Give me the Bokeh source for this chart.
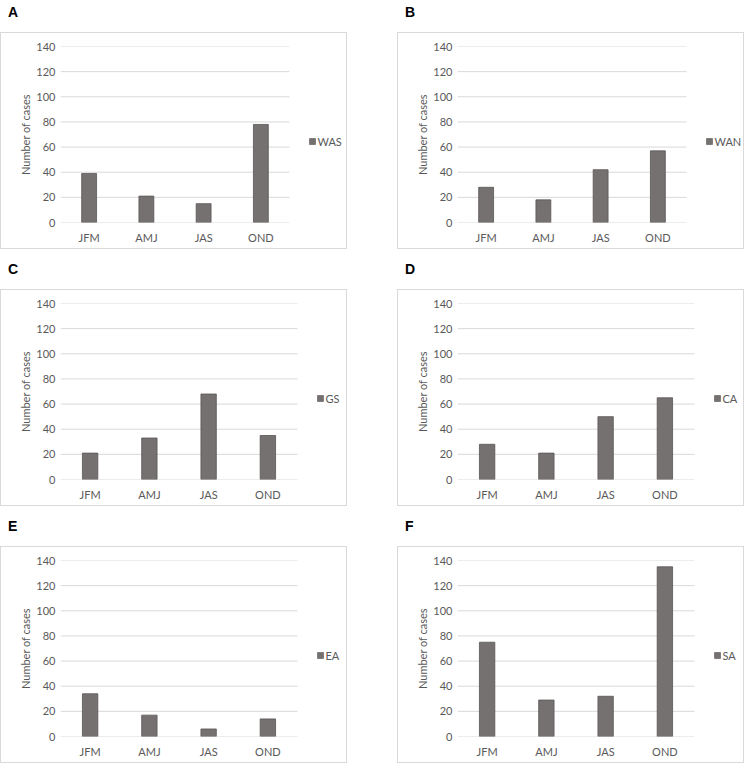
from bokeh.plotting import figure
from bokeh.models import ColumnDataSource, Range1d, FixedTicker, Div, Spacer
from bokeh.core.properties import value
from bokeh.layouts import column, row
from bokeh.embed import file_html
from bokeh.resources import INLINE

# ---------------- data ----------------
categories = ["JFM", "AMJ", "JAS", "OND"]
panel_letters = ["A", "B", "C", "D", "E", "F"]
regions = ["WAS", "WAN", "GS", "CA", "EA", "SA"]
was = [39, 21, 15, 78]
wan = [28, 18, 42, 57]
gs = [21, 33, 68, 35]
ca = [28, 21, 50, 65]
ea = [34, 17, 6, 14]
sa = [75, 29, 32, 135]
y_ticks = [0, 20, 40, 60, 80, 100, 120, 140]
y_label = "Number of cases"
series = [was, wan, gs, ca, ea, sa]

# ---------------- style / layout ----------------
FONT = "Lato"
TXT = "#595959"
GRID = "#d9d9d9"
BAR = "#767171"
BAR_EDGE = "#5a5555"
W, H = 347, 217
LEFT, TOP, BOTTOM, RIGHT_MIN = 59, 13, 28, 3
PLOT_PX = {"A": 229, "B": 229, "C": 237, "D": 237, "E": 237, "F": 237}
LEG_GAP_PX = 23          # legend square centre, px right of plot area
LEG_Y_FRAC = 0.46        # legend height as fraction of axis range


def make_panel(letter, region, values, pad_top):
    n = len(categories)
    frame_px = W - LEFT - RIGHT_MIN
    cat_px = PLOT_PX[letter] / n
    x_end = frame_px / cat_px
    xs = [i + 0.5 for i in range(n)]
    src = ColumnDataSource(dict(x=xs, val=values))

    p = figure(x_range=Range1d(0, x_end),
               y_range=Range1d(y_ticks[0], y_ticks[-1]),
               width=W, height=H, output_backend="svg", toolbar_location=None,
               min_border_left=LEFT, min_border_right=RIGHT_MIN,
               min_border_top=TOP, min_border_bottom=BOTTOM,
               background_fill_color="white", border_fill_color="white",
               outline_line_color=None,
               styles={"border": f"1px solid {GRID}"})

    # horizontal gridlines spanning only the category area
    p.segment(x0=[0] * len(y_ticks), x1=[n] * len(y_ticks),
              y0=y_ticks, y1=y_ticks, line_color=GRID, line_width=1)

    p.vbar(x="x", top="val", width=0.26, source=src,
           fill_color=BAR, line_color=BAR_EDGE, line_width=0.8)

    # legend (square + label) placed right of the category area
    lx = n + LEG_GAP_PX / cat_px
    ly = y_ticks[-1] * LEG_Y_FRAC
    p.rect(x=[lx], y=[ly], width=6, height=6, width_units="screen",
           height_units="screen", fill_color=BAR, line_color=BAR_EDGE,
           line_width=0.6)
    p.text(x=[lx], y=[ly], text=[region], x_offset=5,
           text_font=value(FONT), text_font_size="11px", text_color=TXT,
           text_baseline="middle", text_align="left")

    p.xgrid.grid_line_color = None
    p.ygrid.grid_line_color = None

    ya = p.yaxis[0]
    ya.ticker = FixedTicker(ticks=y_ticks)
    ya.axis_line_color = None
    ya.major_tick_line_color = None
    ya.minor_tick_line_color = None
    ya.major_tick_out = 5
    ya.major_label_text_font = FONT
    ya.major_label_text_font_size = "11px"
    ya.major_label_text_color = TXT
    ya.major_label_standoff = 0
    ya.axis_label = y_label
    ya.axis_label_text_font = FONT
    ya.axis_label_text_font_size = "11px"
    ya.axis_label_text_font_style = "normal"
    ya.axis_label_text_color = TXT
    ya.axis_label_standoff = 1

    xa = p.xaxis[0]
    xa.ticker = FixedTicker(ticks=xs)
    xa.major_label_overrides = {x: c for x, c in zip(xs, categories)}
    xa.axis_line_color = None
    xa.major_tick_line_color = None
    xa.minor_tick_line_color = None
    xa.major_label_text_font = FONT
    xa.major_label_text_font_size = "11px"
    xa.major_label_text_color = TXT
    xa.major_label_standoff = 2

    div = Div(text=f'<div style="padding-top:{pad_top}px">{letter}</div>',
              width=W, height=22 + pad_top,
              styles={"font-family": "Liberation Sans", "font-weight": "bold",
                      "font-size": "14px", "line-height": "14px",
                      "padding-left": "3px", "color": "#000000"})
    return column(div, p)


cells = []
for i, (l, r, v) in enumerate(zip(panel_letters, regions, series)):
    cells.append(make_panel(l, r, v, 0 if i < 2 else 8))
rows = [row(cells[2 * k], Spacer(width=40, height=10), cells[2 * k + 1])
        for k in range(3)]
layout = column(*rows)

open("out.html", "w").write(file_html(layout, INLINE))
